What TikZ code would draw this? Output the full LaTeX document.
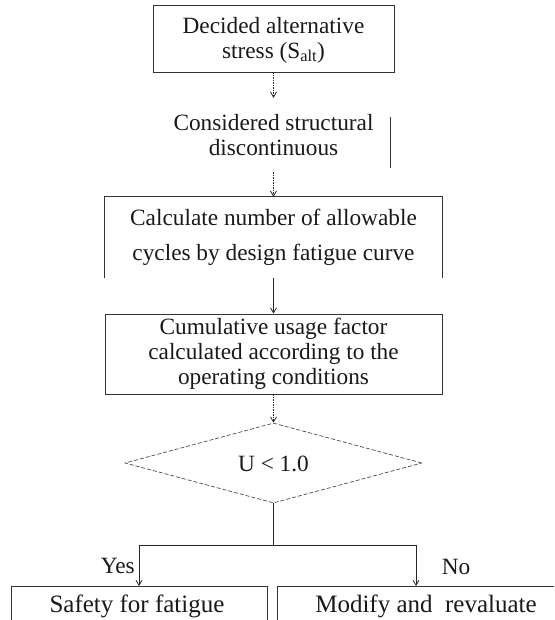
\documentclass[tikz,border=0pt]{standalone}
\usepackage{fontspec}
\setmainfont{Liberation Serif}
\usetikzlibrary{arrows.meta,shapes.geometric}
\begin{document}
\begin{tikzpicture}[x=1pt,y=-1pt,
  txt/.style={font=\fontsize{23.3}{25}\selectfont, align=center, inner sep=0pt, text=black!90},
  bigtxt/.style={txt, font=\fontsize{25}{27}\selectfont},
  box/.style={draw=black!80, line width=0.9pt},
  arr/.style={-{Straight Barb[length=5pt,width=6pt]}, line width=0.8pt, draw=black!85},
  dotarr/.style={arr, dash pattern=on 1.5pt off 1pt},
  dec/.style={draw=black!70, line width=0.7pt, dash pattern=on 4pt off 2pt, shape=diamond, inner sep=0pt, minimum width=297pt, minimum height=80pt},
]
\useasboundingbox (0,0) rectangle (554,620);
\clip (0,0) rectangle (554,620);

% top box
\node[box, minimum width=241pt, minimum height=67pt, inner sep=0pt] (b1) at (273.5,38.5) {};
\node[txt] (t1) at (273.5,40) {Decided alternative\\stress (S\textsubscript{alt})};

% considered structural
\node[txt, minimum height=74pt] (c1) at (273.5,135) {Considered structural\\discontinuous};
\coordinate (v1a) at (390,117);
\coordinate (v1b) at (390,168);
\draw[box, line width=0.8pt] (v1a) -- (v1b);

% box 2 (open bottom)
\node[txt, font=\fontsize{23.3}{35}\selectfont, minimum width=337pt, minimum height=81pt] (b2) at (273.5,237.5) {Calculate number of allowable\\cycles by design fatigue curve};
\draw[box] (b2.south west) -- (b2.north west) -- (b2.north east) -- (b2.south east);

% box 3
\node[box, txt, minimum width=337pt, minimum height=80pt] (b3) at (273.5,354) {Cumulative usage factor\\calculated according to the\\operating conditions};

% decision
\node[dec] (d) at (273.5,463) {};
\node[txt] (dt) at (273.5,464) {U < 1.0};

\coordinate (j) at (273.5,545);
\coordinate (jl) at (139,545);
\coordinate (jr) at (416,545);

% bottom boxes (cut by the page edge)
\node[txt, minimum width=255pt, minimum height=60pt, anchor=north] (bl) at (139.5,586) {};
\node[bigtxt] (blt) at (137,606) {Safety for fatigue};
\draw[box] (bl.south west) -- (bl.north west) -- (bl.north east) -- (bl.south east);

\node[txt, minimum width=297pt, minimum height=60pt, anchor=north] (br) at (426.5,586) {};
\node[bigtxt] (brt) at (426,606) {Modify and\ \ revaluate};
\draw[box] (br.south west) -- (br.north west) -- (br.north east) -- (br.south east);

% connectors
\draw[dotarr] (b1.south) -- (c1.north);
\draw[dotarr] (c1.south) -- (b2.north);
\draw[arr] (b2.south) -- (b3.north);
\draw[dotarr] (b3.south) -- (d.north);
\draw[line width=0.9pt, draw=black!85] (d.south) -- (j);
\draw[line width=0.9pt, draw=black!85] (jl) -- (jr);
\draw[arr] (jl) -- (bl.north -| jl);
\draw[arr] (jr) -- (br.north -| jr);

\node[txt, anchor=east] (yes) at (135,566) {Yes};
\node[txt] (no) at (456,567) {No};
\end{tikzpicture}
\end{document}
